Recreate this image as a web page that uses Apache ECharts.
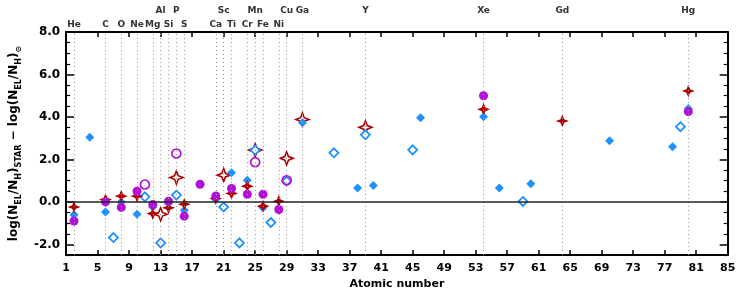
<!DOCTYPE html>
<html>
<head>
<meta charset="utf-8">
<script src="https://cdn.jsdelivr.net/npm/echarts@6/dist/echarts.min.js"></script>
<style>
html,body{margin:0;padding:0;background:#fff;}
#chart{width:748px;height:303px;}
</style>
</head>
<body>
<div id="chart"></div>
<script>
// ---- data ----
const xTickValues = [1, 5, 9, 13, 17, 21, 25, 29, 33, 37, 41, 45, 49, 53, 57, 61, 65, 69, 73, 77, 81, 85];
const yTickValues = [-2, 0, 2, 4, 6, 8];
const yMinorTickValues = [-2.5, -1.5, -1, -0.5, 0.5, 1, 1.5, 2.5, 3, 3.5, 4.5, 5, 5.5, 6.5, 7, 7.5];

const elementZ = [2, 6, 8, 10, 12, 13, 14, 15, 16, 20, 21, 22, 24, 25, 26, 28, 29, 31, 39, 54, 64, 80];
const elementNames = ['He', 'C', 'O', 'Ne', 'Mg', 'Al', 'Si', 'P', 'S', 'Ca', 'Sc', 'Ti', 'Cr', 'Mn', 'Fe', 'Ni', 'Cu', 'Ga', 'Y', 'Xe', 'Gd', 'Hg'];
const elementUpperRow = [0, 0, 0, 0, 0, 1, 0, 1, 0, 0, 1, 0, 0, 1, 0, 0, 1, 1, 1, 1, 1, 1];

const blueFilledZ = [2, 4, 6, 8, 10, 12, 14, 16, 20, 22, 24, 26, 31, 38, 40, 46, 54, 56, 60, 70, 78, 80];
const blueFilledV = [-0.6, 3.05, -0.47, 0.0, -0.58, -0.24, -0.05, -0.39, 0.11, 1.37, 1.02, -0.28, 3.73, 0.66, 0.77, 3.96, 4.01, 0.65, 0.85, 2.88, 2.6, 4.4];

const blueOpenZ = [7, 11, 13, 15, 21, 23, 25, 27, 29, 35, 39, 45, 59, 79];
const blueOpenV = [-1.68, 0.24, -1.93, 0.32, -0.24, -1.93, 2.44, -0.97, 0.98, 2.31, 3.16, 2.45, 0.02, 3.54];

const magentaFilledZ = [2, 6, 8, 10, 12, 14, 16, 18, 20, 22, 24, 26, 28, 54, 80];
const magentaFilledV = [-0.9, 0.0, -0.26, 0.5, -0.12, 0.03, -0.67, 0.83, 0.28, 0.63, 0.36, 0.36, -0.36, 5.0, 4.25];

const magentaOpenZ = [11, 15, 25, 29];
const magentaOpenV = [0.82, 2.28, 1.87, 1.02];

const redFilledZ = [2, 6, 8, 10, 12, 14, 16, 20, 22, 24, 26, 28, 54, 64, 80];
const redFilledV = [-0.24, 0.11, 0.27, 0.27, -0.55, -0.28, -0.11, 0.16, 0.4, 0.74, -0.2, 0.03, 4.36, 3.81, 5.22];

const redOpenZ = [13, 15, 21, 25, 29, 31, 39];
const redOpenV = [-0.58, 1.15, 1.26, 2.44, 2.05, 3.88, 3.51];

// ---- styles ----
const BLUE = '#1E90FF';
const MAG = '#B010D8';
const RED = '#B00000';
const FONT = 'DejaVu Sans';
const STAR = 'path://M0,-10 L2.8,-2.8 L10,0 L2.8,2.8 L0,10 L-2.8,2.8 L-10,0 L-2.8,-2.8 Z';

function pts(zs, vs) { return zs.map((z, i) => [z, vs[i]]); }

const elementLines = elementZ.map((z, i) => ({
  xAxis: z,
  label: { formatter: elementNames[i], distance: elementUpperRow[i] ? 17 : 3 }
}));

const chart = echarts.init(document.getElementById('chart'), null, { renderer: 'canvas' });

const yMajorBase = {
  type: 'value', min: -2.5, max: 8,
  splitLine: { show: false },
  axisTick: { inside: true, length: 8, lineStyle: { color: '#000', width: 1.5 }, customValues: yTickValues }
};
const yMinorBase = {
  type: 'value', min: -2.5, max: 8,
  splitLine: { show: false },
  axisLine: { show: false },
  axisLabel: { show: false },
  axisTick: { inside: true, length: 4, lineStyle: { color: '#000', width: 1.2 }, customValues: yMinorTickValues }
};

const option = {
  animation: false,
  backgroundColor: '#fff',
  grid: { left: 62.6, right: 20.3, top: 32, bottom: 48 },
  xAxis: [
    {
      type: 'value', min: 1, max: 85, position: 'bottom',
      name: 'Atomic number', nameLocation: 'middle', nameGap: 22,
      nameTextStyle: { fontFamily: FONT, fontSize: 11, fontWeight: 'bold', color: '#000' },
      splitLine: { show: false },
      axisLine: { onZero: false, lineStyle: { color: '#000', width: 2 } },
      axisTick: { inside: true, length: 5, lineStyle: { color: '#000', width: 1.5 }, customValues: xTickValues },
      axisLabel: { customValues: xTickValues, fontFamily: FONT, fontSize: 11, fontWeight: 'bold', color: '#000', margin: 8 }
    },
    {
      type: 'value', min: 1, max: 85, position: 'top',
      splitLine: { show: false },
      axisLine: { onZero: false, lineStyle: { color: '#000', width: 2 } },
      axisTick: { inside: true, length: 5, lineStyle: { color: '#000', width: 1.5 }, customValues: xTickValues },
      axisLabel: { show: false }
    }
  ],
  yAxis: [
    Object.assign({}, yMajorBase, {
      position: 'left',
      name: '{m|log(N}{s|EL}{m|/N}{s|H}{m|)}{s|STAR}{m| \u2212 log(N}{s|EL}{m|/N}{s|H}{m|)}{s|\u2299}',
      nameLocation: 'middle', nameGap: 30, nameRotate: 90,
      nameTextStyle: {
        rich: {
          m: { fontFamily: FONT, fontSize: 12, fontWeight: 'bold', color: '#000', lineHeight: 18, verticalAlign: 'middle' },
          s: { fontFamily: FONT, fontSize: 8, fontWeight: 'bold', color: '#000', lineHeight: 10, verticalAlign: 'bottom' }
        }
      },
      axisLine: { onZero: false, lineStyle: { color: '#000', width: 2 } },
      axisLabel: { customValues: yTickValues, formatter: v => v.toFixed(1), fontFamily: FONT, fontSize: 12, fontWeight: 'bold', color: '#000', margin: 6 }
    }),
    Object.assign({}, yMinorBase, { position: 'left' }),
    Object.assign({}, yMajorBase, {
      position: 'right',
      axisLine: { onZero: false, lineStyle: { color: '#000', width: 2 } },
      axisLabel: { show: false }
    }),
    Object.assign({}, yMinorBase, { position: 'right' })
  ],
  series: [
    {
      type: 'scatter', name: 'guides', data: [], xAxisIndex: 0, yAxisIndex: 0,
      markLine: {
        silent: true, symbol: 'none', animation: false,
        lineStyle: { color: '#999', type: [1, 3], width: 1 },
        label: { position: 'end', fontFamily: FONT, fontSize: 9, fontWeight: 'bold', color: '#333' },
        data: elementLines
      }
    },
    {
      type: 'scatter', name: 'zero', data: [], xAxisIndex: 0, yAxisIndex: 0,
      markLine: {
        silent: true, symbol: 'none', animation: false,
        lineStyle: { color: '#222', type: 'solid', width: 1.6 },
        label: { show: false },
        data: [{ yAxis: 0 }]
      }
    },
    {
      type: 'scatter', name: 'red open', data: pts(redOpenZ, redOpenV),
      symbol: STAR, symbolSize: 13,
      itemStyle: { color: '#fff', borderColor: RED, borderWidth: 1.6, opacity: 1 }
    },
    {
      type: 'scatter', name: 'blue open', data: pts(blueOpenZ, blueOpenV),
      symbol: 'diamond', symbolSize: 9,
      itemStyle: { color: '#fff', borderColor: BLUE, borderWidth: 1.8, opacity: 1 }
    },
    {
      type: 'scatter', name: 'blue filled', data: pts(blueFilledZ, blueFilledV),
      symbol: 'diamond', symbolSize: 9,
      itemStyle: { color: BLUE, opacity: 1 }
    },
    {
      type: 'scatter', name: 'red filled', data: pts(redFilledZ, redFilledV),
      symbol: STAR, symbolSize: 13,
      itemStyle: { color: RED, opacity: 1 }
    },
    {
      type: 'scatter', name: 'magenta open', data: pts(magentaOpenZ, magentaOpenV),
      symbol: 'circle', symbolSize: 9,
      itemStyle: { color: 'rgba(255,255,255,0)', borderColor: MAG, borderWidth: 1.7, opacity: 1 }
    },
    {
      type: 'scatter', name: 'magenta filled', data: pts(magentaFilledZ, magentaFilledV),
      symbol: 'circle', symbolSize: 9,
      itemStyle: { color: MAG, opacity: 1 }
    }
  ]
};
chart.setOption(option);
</script>
</body>
</html>
